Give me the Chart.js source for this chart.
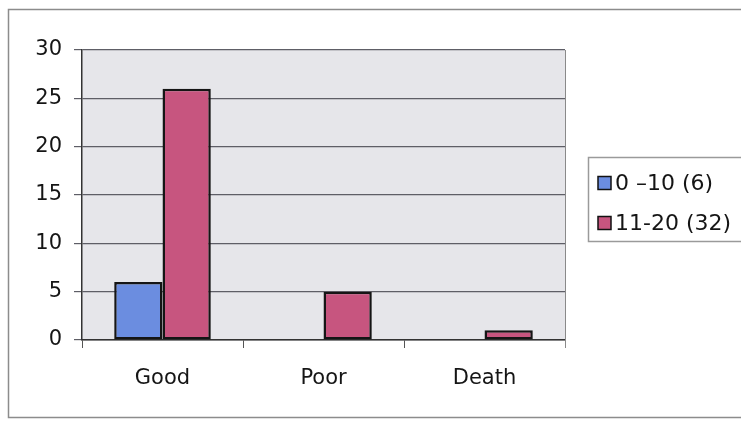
<!DOCTYPE html>
<html>
<head>
<meta charset="utf-8">
<script src="https://cdn.jsdelivr.net/npm/chart.js@4"></script>
<style>
  html, body { margin: 0; padding: 0; background: #fff; overflow: hidden; }
  #wrap { width: 741px; height: 426px; position: relative; }
</style>
</head>
<body>
<div id="wrap"><canvas id="c" width="741" height="426"></canvas></div>
<script>
// Outcome by age group
const categories = ['Good', 'Poor', 'Death'];
const seriesNames = ['0 \u201310 (6)', '11-20 (32)'];
const age0to10 = [6, 0, 0];
const age11to20 = [26, 5, 1];
const yTickValues = [0, 5, 10, 15, 20, 25, 30];

const seriesColors = ['#6b8de0', '#c7557f'];
const textColor = '#151515';
const fontFamily = '"DejaVu Sans", "Liberation Sans", Arial, sans-serif';

// Page frame, grey plot area and the boxed legend
const decorations = {
  id: 'decorations',
  beforeDraw(chart) {
    const ctx = chart.ctx;
    const a = chart.chartArea;
    ctx.save();
    ctx.fillStyle = '#ffffff';
    ctx.fillRect(0, 0, chart.width, chart.height);
    // outer frame (open to the right)
    ctx.strokeStyle = '#8c8c8c';
    ctx.lineWidth = 1.5;
    ctx.beginPath();
    ctx.moveTo(chart.width + 5, 9.5);
    ctx.lineTo(8.5, 9.5);
    ctx.lineTo(8.5, 417.5);
    ctx.lineTo(chart.width + 5, 417.5);
    ctx.stroke();
    // plot background
    ctx.fillStyle = '#e6e6ea';
    ctx.fillRect(a.left, a.top, a.right - a.left, a.bottom - a.top);
    ctx.restore();
  },
  afterDraw(chart) {
    const ctx = chart.ctx;
    const a = chart.chartArea;
    ctx.save();
    // right edge of the plot area
    ctx.strokeStyle = '#8a8a8a';
    ctx.lineWidth = 1;
    ctx.beginPath();
    ctx.moveTo(a.right + 0.5, a.top);
    ctx.lineTo(a.right + 0.5, a.bottom + 8);
    ctx.stroke();

    // legend box
    const lx = 588.5, ly = 157.5, lw = 170, lh = 84;
    ctx.fillStyle = '#ffffff';
    ctx.fillRect(lx, ly, lw, lh);
    ctx.strokeStyle = '#9a9a9a';
    ctx.lineWidth = 1.5;
    ctx.strokeRect(lx, ly, lw, lh);
    ctx.font = '22px ' + fontFamily;
    ctx.textBaseline = 'middle';
    ctx.textAlign = 'left';
    chart.data.datasets.forEach((ds, i) => {
      const cy = 183 + i * 40;
      ctx.fillStyle = ds.backgroundColor;
      ctx.fillRect(598, cy - 6.5, 13, 13);
      ctx.strokeStyle = '#111';
      ctx.lineWidth = 1.5;
      ctx.strokeRect(598, cy - 6.5, 13, 13);
      ctx.fillStyle = textColor;
      ctx.fillText(ds.label, 615, cy + 1);
    });
    ctx.restore();
  }
};

new Chart(document.getElementById('c'), {
  type: 'bar',
  data: {
    labels: categories,
    datasets: [
      { label: seriesNames[0], data: age0to10, backgroundColor: seriesColors[0] },
      { label: seriesNames[1], data: age11to20, backgroundColor: seriesColors[1] }
    ].map(d => Object.assign(d, {
      borderColor: '#151515',
      borderWidth: 2.5,
      borderSkipped: false,
      categoryPercentage: 0.6,
      barPercentage: 1.0
    }))
  },
  options: {
    responsive: false,
    animation: false,
    layout: { padding: { top: 50, right: 176, left: 0, bottom: 0 } },
    plugins: {
      legend: { display: false },
      tooltip: { enabled: false }
    },
    scales: {
      x: {
        offset: true,
        grid: { offset: true, drawOnChartArea: false, tickLength: 8, color: '#555555' },
        border: { color: '#333333', width: 1.5 },
        ticks: { color: textColor, font: { size: 21, family: fontFamily }, padding: 18 },
        afterFit(scale) { scale.height = 86; }
      },
      y: {
        min: 0,
        max: 30,
        afterBuildTicks(scale) { scale.ticks = yTickValues.map(v => ({ value: v })); },
        grid: { color: '#5e5e66', tickLength: 8, lineWidth: 1.2 },
        border: { color: '#333333', width: 1.5 },
        ticks: { color: textColor, font: { size: 21, family: fontFamily }, padding: 12 },
        afterFit(scale) { scale.width = 82; }
      }
    }
  },
  plugins: [decorations]
});
</script>
</body>
</html>
